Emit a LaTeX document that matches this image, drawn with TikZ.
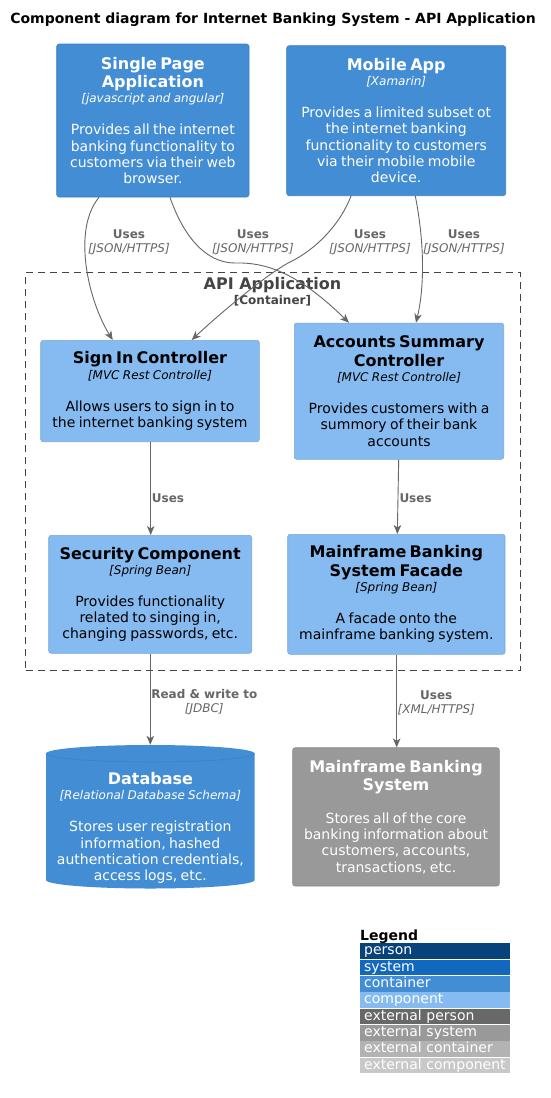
\documentclass[tikz,border=0pt]{standalone}
\usepackage{fontspec}
\setmainfont{DejaVu Sans}
\usetikzlibrary{arrows.meta}
\definecolor{contC}{HTML}{438DD5}
\definecolor{contB}{HTML}{3C7FC0}
\definecolor{compC}{HTML}{85BBF0}
\definecolor{compB}{HTML}{78A8D8}
\definecolor{extC}{HTML}{999999}
\definecolor{extB}{HTML}{8A8A8A}
\definecolor{relC}{HTML}{666666}
\definecolor{bndC}{HTML}{444444}
\definecolor{personC}{HTML}{08427B}
\definecolor{systemC}{HTML}{1168BD}
\definecolor{extPersonC}{HTML}{686868}
\definecolor{extContC}{HTML}{B3B3B3}
\definecolor{extCompC}{HTML}{C8C8C8}
\newcommand\nmfont{\fontsize{16}{18.6}\selectfont\bfseries}
\newcommand\tcfont{\fontsize{12}{15.2}\selectfont\itshape}
\newcommand\dsfont{\fontsize{14}{16.3}\selectfont}
\newcommand\mkcomp[3]{\parindent=0pt{\nmfont #1\par}{\tcfont [#2]\par}\vspace{15.7pt}{\dsfont #3\par}}
\newcommand\mkext[2]{\parindent=0pt{\nmfont #1\par}\vspace{16.2pt}{\dsfont #2\par}}
\begin{document}
\begin{tikzpicture}[x=1pt,y=-1pt,
  box/.style={rectangle, rounded corners=2.5pt, inner sep=0pt, align=center, line width=0.6pt},
  contbox/.style={box, fill=contC, draw=contB, text=white},
  compbox/.style={box, fill=compC, draw=compB, text=black},
  extbox/.style={box, fill=extC, draw=extB, text=white},
  rel/.style={draw=relC, line width=0.9pt, -{Stealth[length=9pt,width=7.5pt,inset=2.5pt]}},
  rellabel/.style={text=relC, align=center, inner sep=0pt, font=\fontsize{12}{14}\selectfont},
  legrow/.style={anchor=north west, inner xsep=4pt, inner ysep=0pt, minimum height=15.6pt, text width=142pt, align=left, text height=10.6pt, text depth=3.3pt, text=white, font=\fontsize{14}{16}\selectfont}
]
\useasboundingbox (0,0) rectangle (551,1098);
\fill[white] (0,0) rectangle (551,1098);

% title
\node[anchor=base, inner sep=0pt, font=\fontsize{14}{16}\selectfont\bfseries] (title) at (273,23.4) {Component diagram for Internet Banking System - API Application};

% boundary
\node[draw=bndC, line width=0.8pt, dash pattern=on 7pt off 5pt, inner sep=0pt, minimum width=495pt, minimum height=397.3pt] (api) at (273.2,471.35) {};
\node[anchor=base, inner sep=0pt, text=bndC, font=\fontsize{16}{18}\selectfont\bfseries] (apiname) at (272.5,289.8) {API Application};
\node[anchor=base, inner sep=0pt, text=bndC, font=\fontsize{12}{14}\selectfont\bfseries] (apitype) at (272.5,304.4) {[Container]};

% containers
\node[contbox, text width=192.3pt, minimum height=153pt] (spa) at (152.85,120.5)
  {\mkcomp{Single Page\\Application}{javascript and angular}{Provides all the internet\\banking functionality to\\customers via their web\\browser.}};
\node[contbox, text width=219pt, minimum height=150pt] (mob) at (396.2,120.7)
  {\mkcomp{Mobile App}{Xamarin}{Provides a limited subset ot\\the internet banking\\functionality to customers\\via their mobile mobile\\device.}};

% components
\node[compbox, text width=218.6pt, minimum height=101.4pt] (sign) at (150,391)
  {\mkcomp{Sign In Controller}{MVC Rest Controlle}{Allows users to sign in to\\the internet banking system}};
\node[compbox, text width=209.4pt, minimum height=136.3pt] (acc) at (399,391.2)
  {\mkcomp{Accounts Summary\\Controller}{MVC Rest Controlle}{Provides customers with a\\summory of their bank\\accounts}};
\node[compbox, text width=203pt, minimum height=118pt] (sec) at (150.2,594.3)
  {\mkcomp{Security Component}{Spring Bean}{Provides functionality\\related to singing in,\\changing passwords, etc.}};
\node[compbox, text width=217.3pt, minimum height=120pt] (fac) at (396.35,594.3)
  {\mkcomp{Mainframe Banking\\System Facade}{Spring Bean}{A facade onto the\\mainframe banking system.}};

% database
\node[inner sep=0pt, minimum width=208.7pt, minimum height=143.3pt] (db) at (150.35,816.65) {};
\fill[contC] (46,753.5) arc[start angle=180, end angle=0, x radius=104.35pt, y radius=8.5pt]
  -- (254.7,880) arc[start angle=0, end angle=-180, x radius=104.35pt, y radius=8.5pt] -- cycle;
\draw[contB, line width=0.5pt] (46,753.5) arc[start angle=180, end angle=360, x radius=104.35pt, y radius=8.5pt];
\node[inner sep=0pt, text width=208pt, align=center, text=white] (dbtext) at (150.35,828)
  {\mkcomp{Database}{Relational Database Schema}{Stores user registration\\information, hashed\\authentication credentials,\\access logs, etc.}};

% external system
\node[extbox, text width=206.6pt, minimum height=138.3pt] (main) at (396,816.85)
  {\mkext{Mainframe Banking\\System}{Stores all of the core\\banking information about\\customers, accounts,\\transactions, etc.}};

% relations
\draw[rel] (spa.south -| 99,0) .. controls (72,230) and (88,300) .. (sign.north -| 112.7,0);
\draw[rel] (spa.south -| 170,0) .. controls (183,235) and (205,263) .. (235,263)
  .. controls (268,262) and (300,275) .. (acc.north -| 349,0);
\draw[rel] (mob.south -| 351,0) .. controls (340,225) and (315,250) .. (290,262)
  .. controls (265,275) and (215,318) .. (sign.north -| 191.7,0);
\draw[rel] (mob.south -| 415.3,0) .. controls (424,240) and (425,285) .. (acc.north -| 416,0);
\draw[rel] (sign.south -| 150.7,0) -- (sec.north -| 150.7,0);
\draw[rel] (acc.south -| 398.7,0) -- (fac.north -| 397.3,0);
\draw[rel] (sec.south -| 150.3,0) -- (db.north -| 150.3,0);
\draw[rel] (fac.south -| 396.7,0) -- (main.north -| 396.7,0);

% relation labels
\node[rellabel] (l1) at (129,242.6) {\textbf{Uses}\\\textit{[JSON/HTTPS]}};
\node[rellabel] (l2) at (253,242.6) {\textbf{Uses}\\\textit{[JSON/HTTPS]}};
\node[rellabel] (l3) at (370,242.6) {\textbf{Uses}\\\textit{[JSON/HTTPS]}};
\node[rellabel] (l4) at (464,242.6) {\textbf{Uses}\\\textit{[JSON/HTTPS]}};
\node[rellabel, anchor=base west] (l5) at (151.7,502.4) {\textbf{Uses}};
\node[rellabel, anchor=base west] (l6) at (399.3,502.4) {\textbf{Uses}};
\node[rellabel] (l7) at (204.3,702.6) {\textbf{Read \& write to}\\\textit{[JDBC]}};
\node[rellabel] (l8) at (436.3,702.6) {\textbf{Uses}\\\textit{[XML/HTTPS]}};

% legend
\node[anchor=base west, inner sep=0pt, font=\fontsize{14}{16}\selectfont\bfseries] (legtitle) at (360,940.1) {Legend};
\node[legrow, fill=personC] (lg0) at (360,943) {person};
\node[legrow, fill=systemC] (lg1) at (360,959.35) {system};
\node[legrow, fill=contC] (lg2) at (360,975.7) {container};
\node[legrow, fill=compC] (lg3) at (360,992.05) {component};
\node[legrow, fill=extPersonC] (lg4) at (360,1008.4) {external person};
\node[legrow, fill=extC] (lg5) at (360,1024.75) {external system};
\node[legrow, fill=extContC] (lg6) at (360,1041.1) {external container};
\node[legrow, fill=extCompC] (lg7) at (360,1057.45) {external component};
\end{tikzpicture}
\end{document}
